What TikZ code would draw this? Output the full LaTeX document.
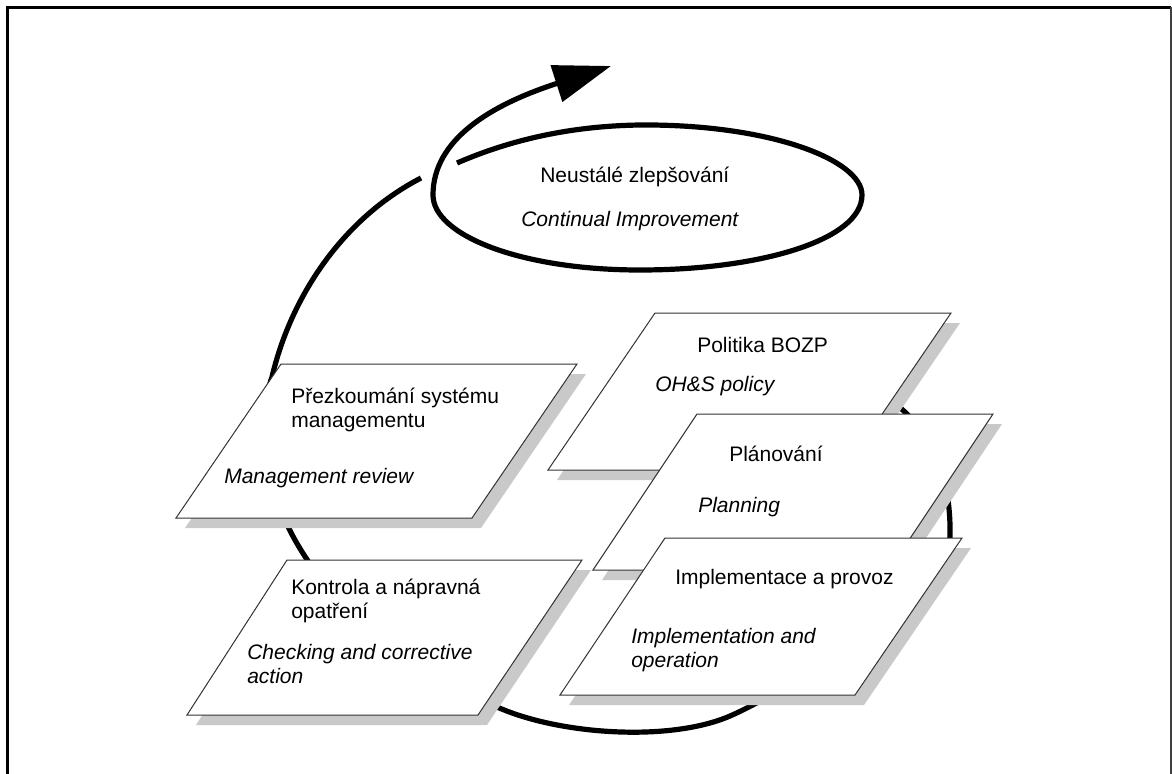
\documentclass[tikz,border=0pt]{standalone}
\usepackage{fontspec}
\setmainfont{Liberation Sans}
\usetikzlibrary{arrows.meta}
\begin{document}
\begin{tikzpicture}[x=0.75pt,y=-0.75pt,
  loopline/.style={line width=3.9pt, black},
  box/.style={draw=black!80, line width=0.75pt, fill=white, line join=miter},
  shadowbox/.style={fill=black!21},
  lbl/.style={anchor=base west, inner sep=0pt, align=left, font=\fontsize{15.75}{18}\selectfont},
  ilbl/.style={anchor=base west, inner sep=0pt, align=left, font=\fontsize{15.75}{18}\selectfont\itshape}]
\useasboundingbox (0,0) rectangle (1172,774);
% frame
\draw[line width=2.2pt, black] (7.3,774) -- (7.3,7.5) -- (1171,7.5);
\draw[line width=1.3pt, black!75] (1171,7.5) -- (1171,774);
% big improvement loop (mostly behind the boxes)
\coordinate (ls) at (850,380);
\coordinate (le) at (421,178);
\draw[loopline] (ls) .. controls (910,400) and (952,450) .. (950,537)
  .. controls (945,590) and (790,690) .. (730,716)
  .. controls (670,742) and (560,735) .. (497,707)
  .. controls (420,673) and (340,620) .. (295,540)
  .. controls (265,487) and (258,415) .. (272,377)
  .. controls (290,300) and (340,220) .. (le);
% Politika
\fill[shadowbox, shift={(9,10)}] (655,313) -- (951,313) -- (844,470) -- (548,470) -- cycle;
\draw[box] (655,313) -- (951,313) -- (844,470) -- (548,470) -- cycle;
\node[lbl] (pol) at (697,352) {Politika BOZP};
\node[ilbl] (pole) at (655,391) {OH\&S policy};
% Planning
\fill[shadowbox, shift={(9,10)}] (697,414) -- (993,414) -- (889,570) -- (593,570) -- cycle;
\draw[box] (697,414) -- (993,414) -- (889,570) -- (593,570) -- cycle;
\node[lbl] (pla) at (729,461) {Plánování};
\node[ilbl] (plae) at (698,512) {Planning};
% Implementation
\fill[shadowbox, shift={(9,10)}] (665,538) -- (962,538) -- (855,695) -- (560,695) -- cycle;
\draw[box] (665,538) -- (962,538) -- (855,695) -- (560,695) -- cycle;
\node[lbl] (imp) at (675,584) {Implementace a provoz};
\node[ilbl] (impe) at (631,667) {Implementation and\\operation};
% Management review
\fill[shadowbox, shift={(9,10)}] (281,364) -- (577,364) -- (472,518) -- (176,518) -- cycle;
\draw[box] (281,364) -- (577,364) -- (472,518) -- (176,518) -- cycle;
\node[lbl] (rev) at (291,427) {Přezkoumání systému\\managementu};
\node[ilbl] (reve) at (224,483) {Management review};
% Checking
\fill[shadowbox, shift={(9,10)}] (287,560) -- (582,560) -- (478,715) -- (187,715) -- cycle;
\draw[box] (287,560) -- (582,560) -- (478,715) -- (187,715) -- cycle;
\node[lbl] (chk) at (291,618) {Kontrola a nápravná\\opatření};
\node[ilbl] (chke) at (247,683) {Checking and corrective\\action};
% continual improvement spiral with arrow
\coordinate (es) at (457,163);
\coordinate (at) at (611,66);
\draw[loopline, -{Triangle[length=43pt,width=28pt]}] (es)
  .. controls (510,140) and (570,126) .. (640,125)
  .. controls (770,124) and (862,160) .. (862,195)
  .. controls (862,240) and (760,270) .. (640,270)
  .. controls (520,270) and (433,235) .. (433,195)
  .. controls (433,140) and (490,105) .. (at);
\node[lbl] (ci) at (540,182) {Neustálé zlepšování};
\node[ilbl] (cie) at (521,226) {Continual Improvement};
\end{tikzpicture}
\end{document}
